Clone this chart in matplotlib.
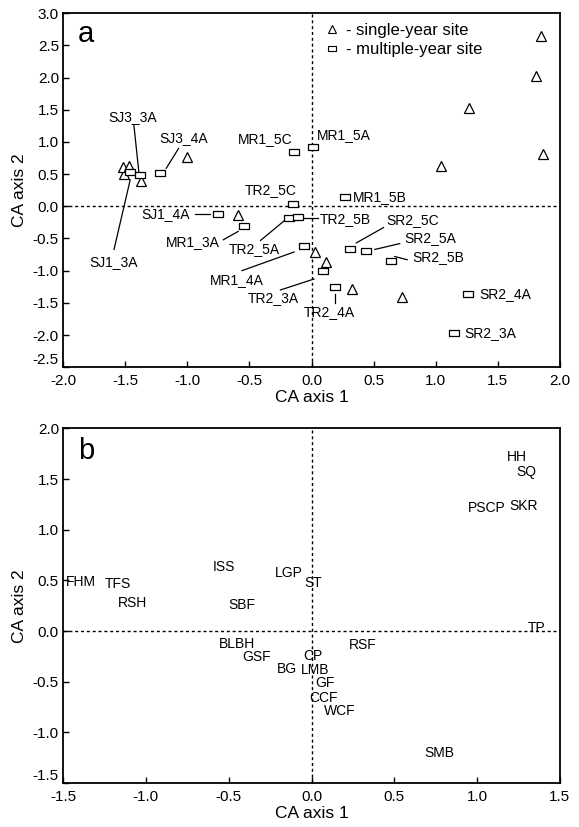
import matplotlib
matplotlib.use('Agg')
import matplotlib.pyplot as plt
from matplotlib.path import Path
from matplotlib.lines import Line2D

plt.rcParams['font.family'] = ['Liberation Sans', 'DejaVu Sans']

# panel a: single-year sites (triangles)
single_x = [-1.51, -1.52, -1.47, -1.37, -1.00, -0.59, 0.03, 0.12, 0.33, 0.73, 1.04, 1.27, 1.85, 1.81, 1.86]
single_y = [0.50, 0.61, 0.62, 0.40, 0.76, -0.14, -0.71, -0.87, -1.29, -1.41, 0.62, 1.52, 2.64, 2.02, 0.81]

# panel a: multiple-year sites (squares)
multi_names = ['SJ1_3A', 'SJ3_3A', 'SJ3_4A', 'SJ1_4A', 'MR1_3A', 'MR1_5C', 'MR1_5A', 'TR2_5C',
               'TR2_5A', 'TR2_5B', 'MR1_5B', 'MR1_4A', 'TR2_3A', 'TR2_4A', 'SR2_5C', 'SR2_5A',
               'SR2_5B', 'SR2_4A', 'SR2_3A']
multi_x = [-1.46, -1.38, -1.22, -0.75, -0.54, -0.14, 0.01, -0.15, -0.18, -0.11, 0.27, -0.06,
           0.09, 0.19, 0.31, 0.44, 0.64, 1.26, 1.15]
multi_y = [0.53, 0.48, 0.51, -0.12, -0.31, 0.84, 0.92, 0.04, -0.18, -0.17, 0.14, -0.61,
           -1.01, -1.25, -0.67, -0.69, -0.85, -1.37, -1.97]

# label text position, alignment, and leader line (from, to) or None
label_pos = {
    'SJ3_3A': (-1.44, 1.38, 'center', ((-1.43, 1.26), (-1.39, 0.53))),
    'SJ3_4A': (-1.03, 1.06, 'center', ((-1.07, 0.90), (-1.17, 0.59))),
    'SJ1_3A': (-1.59, -0.87, 'center', ((-1.59, -0.67), (-1.46, 0.41))),
    'SJ1_4A': (-0.98, -0.12, 'right', ((-0.94, -0.12), (-0.82, -0.12))),
    'MR1_3A': (-0.74, -0.55, 'right', ((-0.71, -0.52), (-0.59, -0.39))),
    'MR1_5C': (-0.37, 1.04, 'center', None),
    'MR1_5A': (0.04, 1.10, 'left', None),
    'TR2_5C': (-0.33, 0.25, 'center', None),
    'TR2_5A': (-0.46, -0.66, 'center', ((-0.41, -0.53), (-0.21, -0.21))),
    'TR2_5B': (0.065, -0.19, 'left', ((-0.06, -0.18), (0.05, -0.18))),
    'MR1_5B': (0.33, 0.14, 'left', None),
    'MR1_4A': (-0.60, -1.14, 'center', ((-0.56, -1.00), (-0.14, -0.71))),
    'TR2_3A': (-0.31, -1.43, 'center', ((-0.25, -1.30), (0.02, -1.13))),
    'TR2_4A': (0.14, -1.65, 'center', ((0.19, -1.37), (0.19, -1.50))),
    'SR2_5C': (0.60, -0.22, 'left', ((0.36, -0.57), (0.58, -0.33))),
    'SR2_5A': (0.75, -0.50, 'left', ((0.51, -0.67), (0.71, -0.58))),
    'SR2_5B': (0.81, -0.79, 'left', ((0.67, -0.78), (0.77, -0.83))),
    'SR2_4A': (1.35, -1.37, 'left', None),
    'SR2_3A': (1.23, -1.97, 'left', None),
}

# panel b: species scores (text only)
species = ['FHM', 'TFS', 'RSH', 'ISS', 'LGP', 'ST', 'SBF', 'TP', 'BLBH', 'RSF', 'GSF', 'CP',
           'BG', 'LMB', 'GF', 'CCF', 'WCF', 'SMB', 'HH', 'SQ', 'PSCP', 'SKR']
species_x = [-1.39, -1.17, -1.08, -0.53, -0.14, 0.01, -0.42, 1.36, -0.45, 0.31, -0.33, 0.01,
             -0.15, 0.02, 0.08, 0.07, 0.17, 0.77, 1.24, 1.30, 1.06, 1.28]
species_y = [0.48, 0.46, 0.28, 0.63, 0.57, 0.47, 0.26, 0.03, -0.13, -0.14, -0.26, -0.25,
             -0.37, -0.38, -0.51, -0.66, -0.79, -1.20, 1.72, 1.57, 1.21, 1.23]

rect = Path([(-1, -0.6), (1, -0.6), (1, 0.6), (-1, 0.6), (-1, -0.6)],
            [Path.MOVETO, Path.LINETO, Path.LINETO, Path.LINETO, Path.CLOSEPOLY])


def style_axes(ax, xlim, ylim, xticks, yticks):
    ax.set_xlim(*xlim)
    ax.set_ylim(*ylim)
    ax.set_xticks(xticks)
    ax.set_yticks(yticks)
    ax.set_xticklabels(['%.1f' % v for v in xticks])
    ax.set_yticklabels(['%.1f' % v for v in yticks])
    ax.tick_params(direction='in', length=4, width=1, labelsize=11)
    ax.tick_params(axis='x', pad=5)
    ax.tick_params(axis='y', pad=3)
    ax.get_yticklabels()[0].set_va('bottom')
    for s in ax.spines.values():
        s.set_linewidth(1.3)
    ax.axhline(0, color='k', lw=1, ls=(0, (2.2, 2)), zorder=1)
    ax.axvline(0, color='k', lw=1, ls=(0, (2.2, 2)), zorder=1)
    ax.set_xlabel('CA axis 1', fontsize=12.5, labelpad=1)
    ax.set_ylabel('CA axis 2', fontsize=12.5, labelpad=4)


fig = plt.figure(figsize=(5.79, 8.27), dpi=100)

# panel a
ax1 = fig.add_axes([0.109, 0.556, 0.858, 0.428])
style_axes(ax1, (-2.0, 2.0), (-2.5, 3.0), [-2.0, -1.5, -1.0, -0.5, 0.0, 0.5, 1.0, 1.5, 2.0],
           [-2.5, -2.0, -1.5, -1.0, -0.5, 0.0, 0.5, 1.0, 1.5, 2.0, 2.5, 3.0])
ax1.plot(single_x, single_y, ls='none', marker='^', ms=7, mfc='white', mec='k', mew=0.9, zorder=3)
ax1.plot(multi_x, multi_y, ls='none', marker=rect, ms=7.5, mfc='white', mec='k', mew=0.9, zorder=3)
for name in multi_names:
    tx, ty, ha, line = label_pos[name]
    ax1.text(tx, ty, name, ha=ha, va='center', fontsize=10, zorder=4)
    if line is not None:
        (x0, y0), (x1, y1) = line
        ax1.plot([x0, x1], [y0, y1], color='k', lw=0.9, zorder=2)
ax1.text(0.03, 0.98, 'a', transform=ax1.transAxes, fontsize=21, va='top', ha='left')
handles = [Line2D([], [], ls='none', marker='^', ms=5.5, mfc='white', mec='k', mew=0.8),
           Line2D([], [], ls='none', marker=rect, ms=6, mfc='white', mec='k', mew=0.8)]
ax1.legend(handles, ['- single-year site', '- multiple-year site'], loc='upper left',
           bbox_to_anchor=(0.505, 1.005), frameon=False, fontsize=12, handlelength=0.8,
           handletextpad=0.4, labelspacing=0.25, borderaxespad=0.3)

# panel b
ax2 = fig.add_axes([0.109, 0.053, 0.858, 0.429])
style_axes(ax2, (-1.5, 1.5), (-1.5, 2.0), [-1.5, -1.0, -0.5, 0.0, 0.5, 1.0, 1.5],
           [-1.5, -1.0, -0.5, 0.0, 0.5, 1.0, 1.5, 2.0])
for name, x, y in zip(species, species_x, species_y):
    ax2.text(x, y, name, ha='center', va='center', fontsize=10, zorder=4)
ax2.text(0.03, 0.975, 'b', transform=ax2.transAxes, fontsize=21, va='top', ha='left')

fig.savefig('out.png', dpi=100)
